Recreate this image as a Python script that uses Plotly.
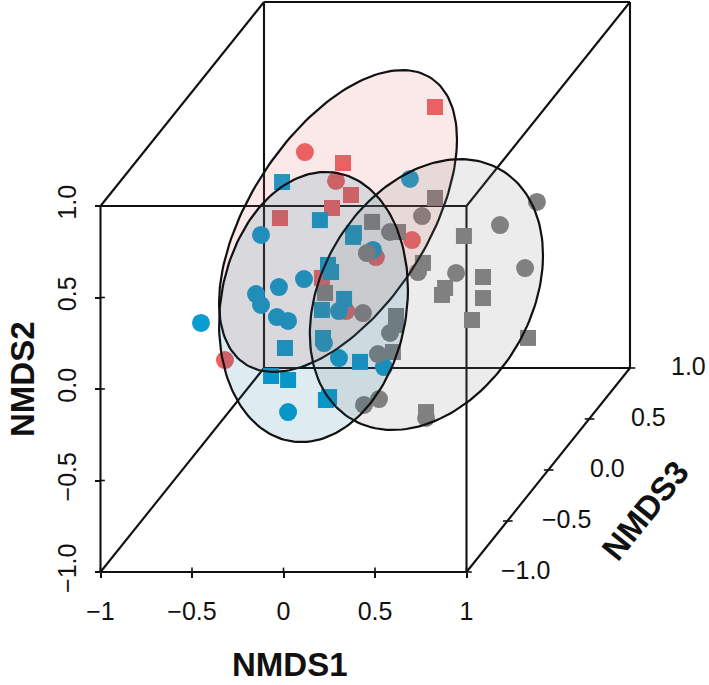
import numpy as np
import plotly.graph_objects as go

# Values (projected NMDS1 / NMDS2 positions)
red_circle_x = [.117, .287, .702, -.320, .505, .342]
red_circle_y = [1.295, 1.137, .814, .158, .721, .426]
red_square_x = [.828, .325, .369, .265, -.019, .210]
red_square_y = [1.541, 1.235, 1.060, .989, .934, .607]
blue_circle_x = [.691, -.123, -.451, -.150, -.123, -.025, .112, -.036, .025, .303, .221, .303, .025, .549, .489]
blue_circle_y = [1.148, .842, .361, .519, .459, .557, .601, .393, .372, .426, .251, .169, -.126, .120, .760]
blue_square_x = [-.008, .199, .385, .380, .243, .260, .210, .331, .216, .008, -.068, .025, .232, .249, .418]
blue_square_y = [1.131, .923, .852, .831, .678, .639, .432, .492, .279, .224, .071, .049, -.060, -.044, .148]
gray_circle_x = [1.385, 1.183, .757, .582, .456, .434, 1.320, .943, .735, .582, .516, .522, .440, .779]
gray_circle_y = [1.022, .896, .945, .858, .743, .415, .661, .634, .639, .306, .191, -.055, -.087, -.158]
gray_square_x = [.828, .484, .626, .986, .762, 1.090, 1.090, .883, .866, 1.030, 1.336, .615, .615, .598, .779, .227]
gray_square_y = [1.044, .913, .858, .836, .689, .612, .497, .552, .514, .377, .279, .399, .350, .202, -.126, .525]

# ellipse: centre x, centre y, half width, half height, correlation
ellipse_red = (.298, .918, .650, .825, .54)
ellipse_gray = (.781, .516, .637, .740, .29)
ellipse_blue = (.164, .448, .516, .738, .13)

x_ticks = [-1, -.5, 0, .5, 1]
x_labels = ["\u22121", "\u22120.5", "0", "0.5", "1"]
y_ticks = [-1, -.5, 0, .5, 1]
y_labels = ["\u22121.0", "\u22120.5", "0.0", "0.5", "1.0"]
z_ticks = [-1, -.5, 0, .5, 1]
z_labels = ["\u22121.0", "\u22120.5", "0.0", "0.5", "1.0"]

RED, BLUE, GRAY = "#EE6064", "#0A9BD0", "#808080"
W, H, SCALE, CX, CY = 709, 685, 183.0, 283.5, 389.0
DX, DY = 0.4467, 0.5574  # oblique depth per NMDS3 unit
FONT = "Liberation Sans, Arial, sans-serif"


def proj(x, y, z):
    return x + (z + 1) * DX, y + (z + 1) * DY


fig = go.Figure()

# cube edges
ex, ey = [], []
for a, b, c, d, e, f in [
    (-1, -1, -1, 1, -1, -1), (1, -1, -1, 1, 1, -1), (1, 1, -1, -1, 1, -1), (-1, 1, -1, -1, -1, -1),
    (-1, -1, 1, 1, -1, 1), (1, -1, 1, 1, 1, 1), (1, 1, 1, -1, 1, 1), (-1, 1, 1, -1, -1, 1),
    (-1, -1, -1, -1, -1, 1), (1, -1, -1, 1, -1, 1), (1, 1, -1, 1, 1, 1), (-1, 1, -1, -1, 1, 1),
]:
    p, q = proj(a, b, c), proj(d, e, f)
    ex += [p[0], q[0], None]
    ey += [p[1], q[1], None]
fig.add_trace(go.Scatter(x=ex, y=ey, mode="lines", line=dict(color="#111", width=2.1), hoverinfo="skip"))

# crossing part of the tick marks, and NMDS3 ticks
tx, ty = [], []
h = 0.024
for v in x_ticks:
    tx += [v, v, None]
    ty += [-1, -1 + h, None]
for v in y_ticks:
    tx += [-1, -1 + h, None]
    ty += [v, v, None]
for v in z_ticks:
    p = proj(1, -1, v)
    tx += [p[0] - h, p[0] + h * 1.2, None]
    ty += [p[1], p[1], None]
fig.add_trace(go.Scatter(x=tx, y=ty, mode="lines", line=dict(color="#111", width=1.6), hoverinfo="skip"))


def pts(x, y, color, symbol, size):
    fig.add_trace(go.Scatter(x=x, y=y, mode="markers",
                             marker=dict(color=color, symbol=symbol, size=size, line=dict(width=0))))


pts(red_circle_x, red_circle_y, RED, "circle", 18)
pts(red_square_x, red_square_y, RED, "square", 16)
pts(blue_circle_x, blue_circle_y, BLUE, "circle", 18)
pts(blue_square_x, blue_square_y, BLUE, "square", 16)
pts(gray_circle_x, gray_circle_y, GRAY, "circle", 18)
pts(gray_square_x, gray_square_y, GRAY, "square", 16)


def ellipse(par, fill):
    cx, cy, a, b, rho = par
    t = np.linspace(0, 2 * np.pi, 181)
    fig.add_trace(go.Scatter(x=cx + a * np.cos(t), y=cy + b * np.cos(t - np.arccos(rho)),
                             mode="lines", fill="toself", fillcolor=fill,
                             line=dict(color="#111", width=2.2), hoverinfo="skip"))


ellipse(ellipse_red, "rgba(220,100,90,0.14)")
ellipse(ellipse_gray, "rgba(128,128,128,0.15)")
ellipse(ellipse_blue, "rgba(0,110,150,0.13)")

ann = []
for v, s in zip(z_ticks, z_labels):
    p = proj(1, -1, v)
    ann.append(dict(x=p[0], y=p[1], text=s, showarrow=False, xshift=59, yshift=2,
                    font=dict(size=25, family=FONT, color="#111")))
title_font = dict(size=33, family=FONT, color="#111", weight="bold")
ann.append(dict(x=(290 - CX) / SCALE, y=(CY - 664) / SCALE, text="<b>NMDS1</b>", showarrow=False, font=title_font))
ann.append(dict(x=(22 - CX) / SCALE, y=(CY - 379) / SCALE, text="<b>NMDS2</b>", showarrow=False, textangle=-90, font=title_font))
ann.append(dict(x=(645 - CX) / SCALE, y=(CY - 510) / SCALE, text="<b>NMDS3</b>", showarrow=False, textangle=-51, font=title_font))

fig.update_layout(
    width=W, height=H, margin=dict(l=0, r=0, t=0, b=0), showlegend=False,
    paper_bgcolor="white", plot_bgcolor="white", annotations=ann,
    font=dict(family=FONT, size=25, color="#111"),
    xaxis=dict(range=[-CX / SCALE, (W - CX) / SCALE], domain=[0, 1], anchor="free",
               position=(H - 572) / H, showgrid=False, zeroline=False, showline=False,
               tickmode="array", tickvals=x_ticks, ticktext=x_labels, ticks="outside",
               ticklen=5, tickwidth=1.6, tickcolor="#111", ticklabelstandoff=12),
    yaxis=dict(range=[(CY - H) / SCALE, CY / SCALE], domain=[0, 1], anchor="free",
               position=100 / W, showgrid=False, zeroline=False, showline=False,
               tickmode="array", tickvals=y_ticks, ticktext=y_labels, ticks="outside",
               ticklen=5, tickwidth=1.6, tickcolor="#111", tickangle=-90, ticklabelstandoff=9),
)
fig.write_html("out.html", config=dict(displayModeBar=False),
               post_script="document.body.style.margin='0';document.documentElement.style.overflow='hidden';")
